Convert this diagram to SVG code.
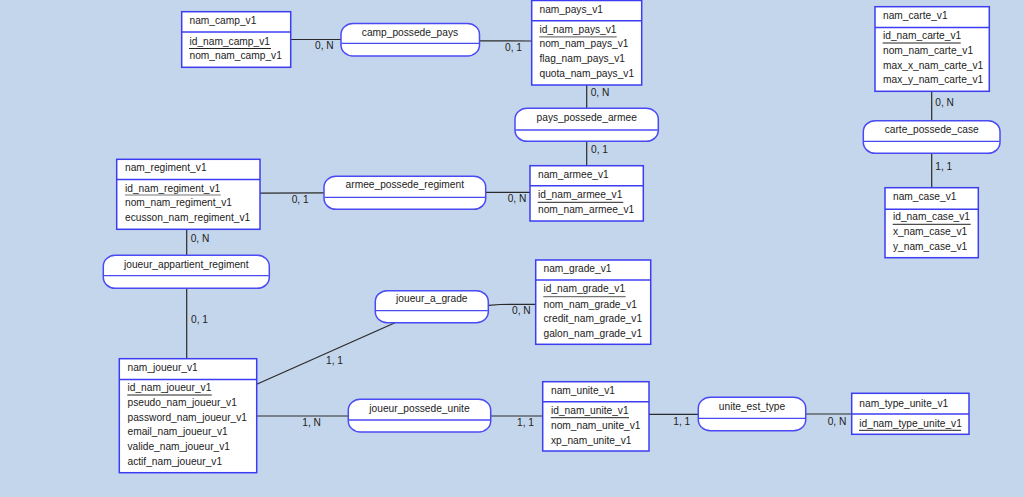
<svg xmlns="http://www.w3.org/2000/svg" width="1024" height="497" viewBox="0 0 1024 497">
<style>
  text { font-family: "Liberation Sans", Arial, sans-serif; font-size: 10.2px; fill: #222; }
  .ent rect { fill: #fff; stroke: #3c3cf2; stroke-width: 1.5; }
  .ent line.hd { stroke: #3c3cf2; stroke-width: 1.5; }
  .ent line.ul { stroke: #222; stroke-width: 1; }
  .ent line.ulg { stroke: #777; stroke-width: 1.2; }
  .rel rect { fill: #fff; stroke: #4a4af5; stroke-width: 1.5; }
  .rel line { stroke: #4a4af5; stroke-width: 1.3; }
  .rel text { text-anchor: middle; }
  #connectors line, #connectors polyline { stroke: #2a2a2a; stroke-width: 1.2; fill: none; }
</style>
<rect width="1024" height="497" fill="#c4d6ec"/>

<g id="connectors">
  <line x1="291" y1="39.5" x2="341" y2="39.5"/>
  <line x1="479" y1="40.8" x2="532" y2="41"/>
  <line x1="586.7" y1="85" x2="586.7" y2="108.3"/>
  <line x1="586.7" y1="141.3" x2="586.7" y2="166"/>
  <line x1="931.7" y1="91.3" x2="931.7" y2="120.7"/>
  <line x1="931.7" y1="153.3" x2="931.7" y2="188"/>
  <line x1="260" y1="193.2" x2="324" y2="192.8"/>
  <line x1="486" y1="192.4" x2="530" y2="192.4"/>
  <line x1="186.7" y1="229.3" x2="186.7" y2="255.5"/>
  <line x1="186.7" y1="288.5" x2="186.7" y2="359"/>
  <polyline points="488.5,305.3 500,304.5 536,304.3"/>
  <line x1="395" y1="322.7" x2="256.7" y2="384.3"/>
  <line x1="256.7" y1="416" x2="348.5" y2="416"/>
  <line x1="491" y1="416" x2="543" y2="416"/>
  <line x1="649" y1="414.3" x2="698.3" y2="414.3"/>
  <line x1="805.7" y1="414" x2="852" y2="414"/>
  <text x="315" y="49">0, N</text>
  <text x="505" y="51">0, 1</text>
  <text x="590.7" y="96">0, N</text>
  <text x="591" y="153.3">0, 1</text>
  <text x="935.3" y="106">0, N</text>
  <text x="935.3" y="170.3">1, 1</text>
  <text x="291.7" y="203">0, 1</text>
  <text x="507.7" y="202.3">0, N</text>
  <text x="190.7" y="242.3">0, N</text>
  <text x="191" y="323">0, 1</text>
  <text x="512" y="314.3">0, N</text>
  <text x="326" y="363.6">1, 1</text>
  <text x="302.3" y="425.6">1, N</text>
  <text x="517" y="426">1, 1</text>
  <text x="673.3" y="425">1, 1</text>
  <text x="827.7" y="424.6">0, N</text>
</g>

<g id="nam_camp_v1" class="ent">
  <rect x="181.7" y="11.7" width="109" height="55.6"/>
  <line class="hd" x1="181.7" y1="32" x2="290.7" y2="32"/>
  <text x="189.5" y="24.2">nam_camp_v1</text>
  <text x="189.5" y="44.8">id_nam_camp_v1</text>
  <line class="ul" x1="189" y1="48.5" x2="271" y2="48.5"/>
  <text x="189.5" y="58.5">nom_nam_camp_v1</text>
</g>

<g id="nam_pays_v1" class="ent">
  <rect x="531.7" y="0.5" width="110" height="84.5"/>
  <line class="hd" x1="531.7" y1="20.7" x2="641.7" y2="20.7"/>
  <text x="539.5" y="12.5">nam_pays_v1</text>
  <text x="539.5" y="32.8">id_nam_pays_v1</text>
  <line class="ulg" x1="539.3" y1="36.8" x2="616.7" y2="36.8"/>
  <text x="539.5" y="46.8">nom_nam_pays_v1</text>
  <text x="539.5" y="62.2">flag_nam_pays_v1</text>
  <text x="539.5" y="76.8">quota_nam_pays_v1</text>
</g>

<g id="nam_carte_v1" class="ent">
  <rect x="875" y="6.7" width="114.3" height="84.6"/>
  <line class="hd" x1="875" y1="27.5" x2="989.3" y2="27.5"/>
  <text x="883" y="19.3">nam_carte_v1</text>
  <text x="883" y="38.5">id_nam_carte_v1</text>
  <line class="ul" x1="882.7" y1="43" x2="960.7" y2="43"/>
  <text x="883" y="54">nom_nam_carte_v1</text>
  <text x="883" y="68.7">max_x_nam_carte_v1</text>
  <text x="883" y="83.3">max_y_nam_carte_v1</text>
</g>

<g id="nam_case_v1" class="ent">
  <rect x="885" y="187.7" width="93.3" height="70"/>
  <line class="hd" x1="885" y1="209.3" x2="978.3" y2="209.3"/>
  <text x="893" y="200.2">nam_case_v1</text>
  <text x="893" y="220.2">id_nam_case_v1</text>
  <line class="ul" x1="892.7" y1="224.3" x2="970.7" y2="224.3"/>
  <text x="893" y="234.6">x_nam_case_v1</text>
  <text x="893" y="249.5">y_nam_case_v1</text>
</g>

<g id="nam_regiment_v1" class="ent">
  <rect x="116.7" y="159.3" width="143.3" height="70"/>
  <line class="hd" x1="116.7" y1="179.5" x2="260" y2="179.5"/>
  <text x="125" y="170.8">nam_regiment_v1</text>
  <text x="125" y="191.5">id_nam_regiment_v1</text>
  <line class="ulg" x1="125" y1="195" x2="220.7" y2="195"/>
  <text x="125" y="206.2">nom_nam_regiment_v1</text>
  <text x="125" y="221.2">ecusson_nam_regiment_v1</text>
</g>

<g id="nam_armee_v1" class="ent">
  <rect x="530" y="165.7" width="113.3" height="55.3"/>
  <line class="hd" x1="530" y1="185.7" x2="643.3" y2="185.7"/>
  <text x="538" y="177.8">nam_armee_v1</text>
  <text x="538" y="197.8">id_nam_armee_v1</text>
  <line class="ul" x1="537.7" y1="202.3" x2="623.3" y2="202.3"/>
  <text x="538" y="212.8">nom_nam_armee_v1</text>
</g>

<g id="nam_grade_v1" class="ent">
  <rect x="535.7" y="260" width="115" height="84.3"/>
  <line class="hd" x1="535.7" y1="280" x2="650.7" y2="280"/>
  <text x="543.5" y="272.2">nam_grade_v1</text>
  <text x="543.5" y="292.2">id_nam_grade_v1</text>
  <line class="ulg" x1="543.3" y1="296.7" x2="625.7" y2="296.7"/>
  <text x="543.5" y="307.5">nom_nam_grade_v1</text>
  <text x="543.5" y="322.2">credit_nam_grade_v1</text>
  <text x="543.5" y="336.5">galon_nam_grade_v1</text>
</g>

<g id="nam_joueur_v1" class="ent">
  <rect x="119.3" y="358.7" width="137.4" height="114"/>
  <line class="hd" x1="119.3" y1="379.4" x2="256.7" y2="379.4"/>
  <text x="127.5" y="371.2">nam_joueur_v1</text>
  <text x="127.5" y="391.2">id_nam_joueur_v1</text>
  <line class="ul" x1="127.3" y1="395" x2="211.7" y2="395"/>
  <text x="127.5" y="405.8">pseudo_nam_joueur_v1</text>
  <text x="127.5" y="420.5">password_nam_joueur_v1</text>
  <text x="127.5" y="435.2">email_nam_joueur_v1</text>
  <text x="127.5" y="449.8">valide_nam_joueur_v1</text>
  <text x="127.5" y="464.5">actif_nam_joueur_v1</text>
</g>

<g id="nam_unite_v1" class="ent">
  <rect x="542.7" y="381.7" width="106.3" height="69.3"/>
  <line class="hd" x1="542.7" y1="401.7" x2="649" y2="401.7"/>
  <text x="551" y="394.2">nam_unite_v1</text>
  <text x="551" y="413.5">id_nam_unite_v1</text>
  <line class="ul" x1="550.7" y1="417.7" x2="629" y2="417.7"/>
  <text x="551" y="429.2">nom_nam_unite_v1</text>
  <text x="551" y="443.5">xp_nam_unite_v1</text>
</g>

<g id="nam_type_unite_v1" class="ent">
  <rect x="851.7" y="393.3" width="117.3" height="41"/>
  <line class="hd" x1="851.7" y1="414" x2="969" y2="414"/>
  <text x="859.3" y="406.8">nam_type_unite_v1</text>
  <text x="859.3" y="426.8">id_nam_type_unite_v1</text>
  <line class="ul" x1="859" y1="430.3" x2="961" y2="430.3"/>
</g>

<g id="camp_possede_pays" class="rel">
  <rect x="341" y="23.5" width="138.5" height="32.5" rx="12" ry="11"/>
  <line x1="341.5" y1="43.3" x2="479" y2="43.3"/>
  <text x="410" y="35.8">camp_possede_pays</text>
</g>

<g id="pays_possede_armee" class="rel">
  <rect x="515" y="108.3" width="143.3" height="33" rx="12" ry="11"/>
  <line x1="515.5" y1="130" x2="657.8" y2="130"/>
  <text x="586.7" y="121.2">pays_possede_armee</text>
</g>

<g id="carte_possede_case" class="rel">
  <rect x="863.3" y="120.7" width="136.7" height="32.6" rx="12" ry="11"/>
  <line x1="863.8" y1="141.3" x2="999.5" y2="141.3"/>
  <text x="931.7" y="132.8">carte_possede_case</text>
</g>

<g id="armee_possede_regiment" class="rel">
  <rect x="324" y="176.3" width="161.7" height="33" rx="12" ry="11"/>
  <line x1="324.5" y1="197.3" x2="485.2" y2="197.3"/>
  <text x="404.8" y="188.2">armee_possede_regiment</text>
</g>

<g id="joueur_appartient_regiment" class="rel">
  <rect x="103.3" y="255.3" width="166" height="33" rx="12" ry="11"/>
  <line x1="103.8" y1="275.7" x2="268.8" y2="275.7"/>
  <text x="186.3" y="267.5">joueur_appartient_regiment</text>
</g>

<g id="joueur_a_grade" class="rel">
  <rect x="375.3" y="290.7" width="113" height="32" rx="12" ry="11"/>
  <line x1="375.8" y1="310.7" x2="487.8" y2="310.7"/>
  <text x="431.8" y="302.2">joueur_a_grade</text>
</g>

<g id="joueur_possede_unite" class="rel">
  <rect x="348.3" y="399.3" width="142.4" height="32.7" rx="12" ry="11"/>
  <line x1="348.8" y1="420" x2="490.2" y2="420"/>
  <text x="419.5" y="411.8">joueur_possede_unite</text>
</g>

<g id="unite_est_type" class="rel">
  <rect x="698.3" y="397.3" width="107.4" height="33.4" rx="12" ry="11"/>
  <line x1="698.8" y1="418.3" x2="805.2" y2="418.3"/>
  <text x="752" y="410.2">unite_est_type</text>
</g>
</svg>
